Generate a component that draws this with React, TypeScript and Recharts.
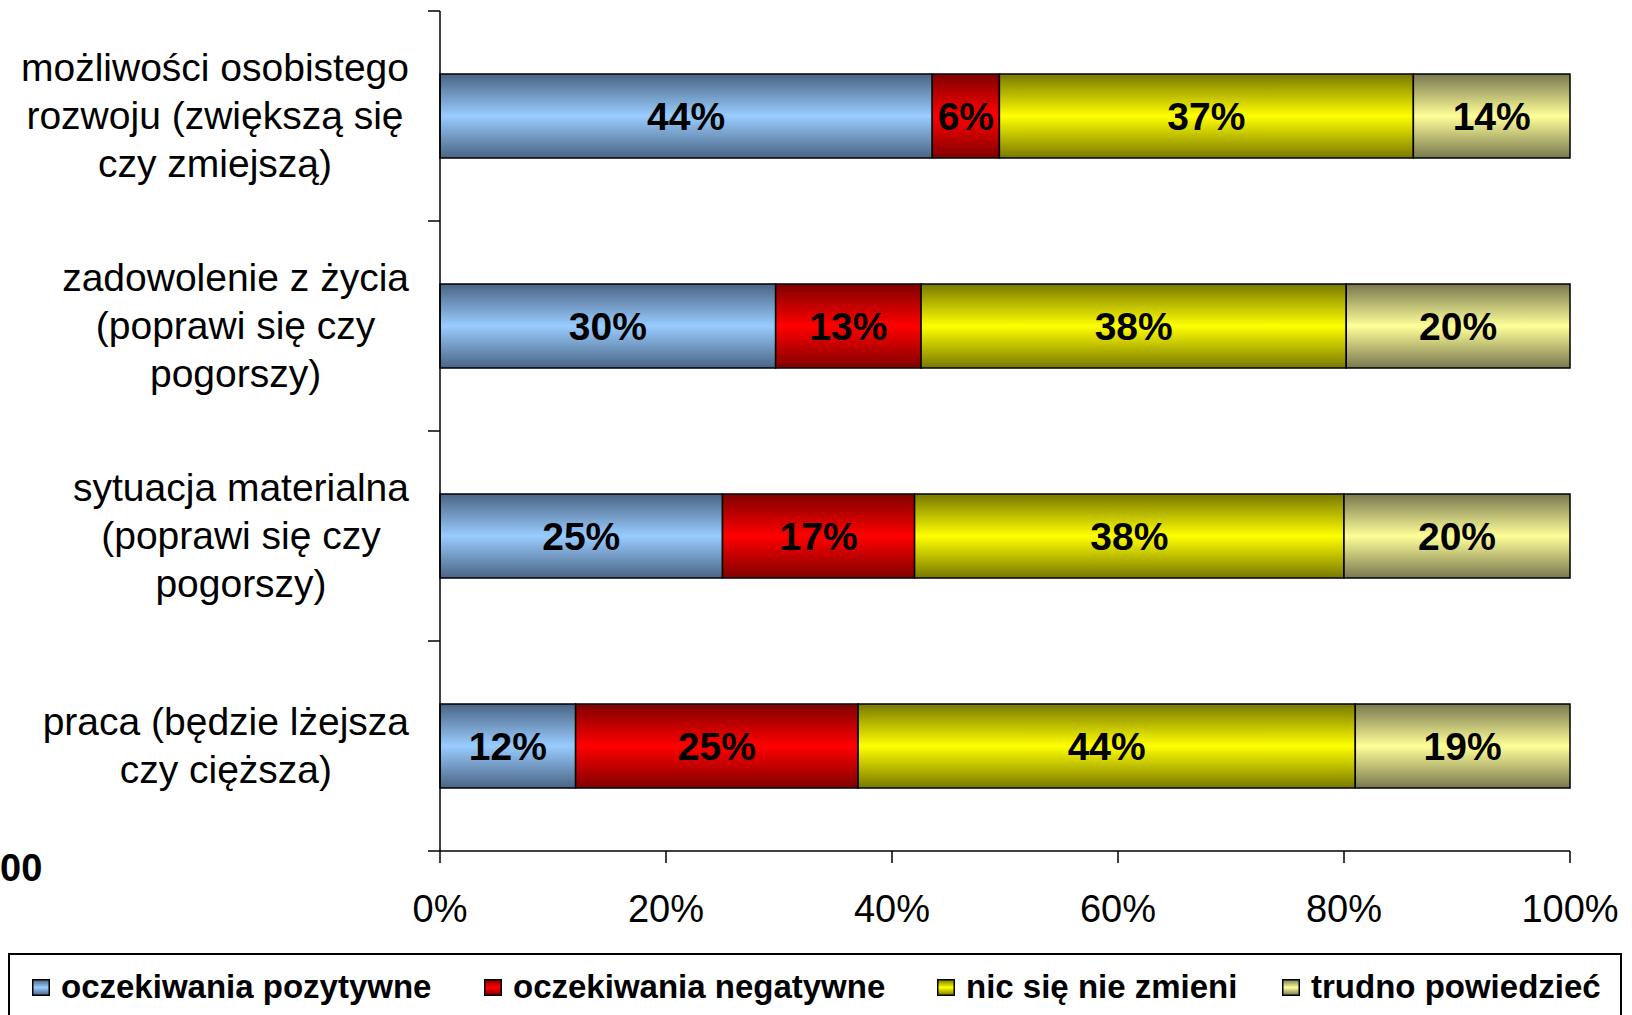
import { Bar, BarChart, LabelList, XAxis, YAxis } from 'recharts'

const FONT = '"Liberation Sans", Arial, sans-serif'

const categories = [
  'możliwości osobistego rozwoju (zwiększą się czy zmiejszą)',
  'zadowolenie z życia (poprawi się czy pogorszy)',
  'sytuacja materialna (poprawi się czy pogorszy)',
  'praca (będzie lżejsza czy cięższa)',
]
const categoryLines = [
  ['możliwości osobistego', 'rozwoju (zwiększą się', 'czy zmiejszą)'],
  ['zadowolenie z życia', '(poprawi się czy', 'pogorszy)'],
  ['sytuacja materialna', '(poprawi się czy', 'pogorszy)'],
  ['praca (będzie lżejsza', 'czy cięższa)'],
]
const positive = [44, 30, 25, 12]
const negative = [6, 13, 17, 25]
const noChange = [37, 38, 38, 44]
const hardToSay = [14, 20, 20, 19]
const seriesNames = [
  'oczekiwania pozytywne',
  'oczekiwania negatywne',
  'nic się nie zmieni',
  'trudno powiedzieć',
]
const xTicks = [0, 0.2, 0.4, 0.6, 0.8, 1]

const data = categories.map((name, i) => ({
  name,
  pos: positive[i],
  neg: negative[i],
  same: noChange[i],
  unsure: hardToSay[i],
}))

// edge colour / centre colour of the banded fills
const series = [
  { key: 'pos', name: seriesNames[0], dark: '#4a6484', light: '#99ccff' },
  { key: 'neg', name: seriesNames[1], dark: '#800000', light: '#ff0000' },
  { key: 'same', name: seriesNames[2], dark: '#787800', light: '#ffff00' },
  { key: 'unsure', name: seriesNames[3], dark: '#787850', light: '#ffff99' },
]

const LABEL_FONT = 39
const LABEL_RIGHT = 409
const LINE_H = 48
const BAND = 210

let measureCtx: CanvasRenderingContext2D | null = null
function textWidth(s: string) {
  if (!measureCtx) {
    measureCtx = document.createElement('canvas').getContext('2d')
    if (measureCtx) measureCtx.font = `${LABEL_FONT}px ${FONT}`
  }
  return measureCtx ? measureCtx.measureText(s).width : s.length * 18
}

function CategoryTick(props: any) {
  const { y, payload, index } = props
  const lines = categoryLines[categories.indexOf(payload.value)] ?? [payload.value]
  const maxW = Math.max(...lines.map(textWidth))
  const cx = LABEL_RIGHT - maxW / 2
  const n = lines.length
  return (
    <g>
      <line x1={428} x2={440} y1={y - BAND / 2} y2={y - BAND / 2} stroke="#000" strokeWidth={1.5} />
      {index === categories.length - 1 && (
        <line x1={428} x2={440} y1={y + BAND / 2} y2={y + BAND / 2} stroke="#000" strokeWidth={1.5} />
      )}
      {lines.map((l, i) => (
        <text
          key={i}
          x={cx}
          y={y + (i - (n - 1) / 2) * LINE_H - 1}
          textAnchor="middle"
          dominantBaseline="central"
          fontSize={LABEL_FONT}
          fontFamily={FONT}
          fill="#000"
        >
          {l}
        </text>
      ))}
    </g>
  )
}

function Gradients() {
  return (
    <defs>
      {series.map((s) => (
        <linearGradient key={s.key} id={`grad-${s.key}`} x1="0" y1="0" x2="0" y2="1">
          <stop offset="0%" stopColor={s.dark} />
          <stop offset="50%" stopColor={s.light} />
          <stop offset="100%" stopColor={s.dark} />
        </linearGradient>
      ))}
    </defs>
  )
}

function LegendBox() {
  const lefts = [32, 484, 937, 1282]
  return (
    <div
      style={{
        position: 'absolute',
        left: 8,
        top: 953,
        width: 1614,
        height: 80,
        border: '2px solid #000',
        boxSizing: 'border-box',
        background: '#fff',
      }}
    >
      {series.map((s, i) => (
        <div
          key={s.key}
          style={{
            position: 'absolute',
            left: lefts[i] - 10,
            top: 10,
            display: 'flex',
            alignItems: 'center',
            whiteSpace: 'nowrap',
          }}
        >
          <svg width={18} height={17} style={{ marginRight: 11 }}>
            <defs>
              <linearGradient id={`lg-${s.key}`} x1="0" y1="0" x2="0" y2="1">
                <stop offset="0%" stopColor={s.dark} />
                <stop offset="50%" stopColor={s.light} />
                <stop offset="100%" stopColor={s.dark} />
              </linearGradient>
            </defs>
            <rect x={0.75} y={0.75} width={16.5} height={15.5} fill={`url(#lg-${s.key})`} stroke="#000" strokeWidth={1.5} />
          </svg>
          <span style={{ fontFamily: FONT, fontWeight: 'bold', fontSize: 33, lineHeight: '44px', color: '#000' }}>
            {s.name}
          </span>
        </div>
      ))}
    </div>
  )
}

export default function App() {
  return (
    <div
      style={{
        position: 'absolute',
        left: 0,
        top: 0,
        width: 1632,
        height: 1015,
        overflow: 'hidden',
        background: '#fff',
        fontFamily: FONT,
      }}
    >
      <BarChart
        width={1632}
        height={1015}
        data={data}
        layout="vertical"
        stackOffset="expand"
        barCategoryGap="30%"
        margin={{ top: 11, right: 62, bottom: 104, left: 0 }}
      >
        <Gradients />
        <XAxis
          type="number"
          domain={[0, 1]}
          ticks={xTicks}
          tickFormatter={(v: number) => `${Math.round(v * 100)}%`}
          tickSize={12}
          tickMargin={32}
          height={60}
          axisLine={{ stroke: '#000', strokeWidth: 1.5 }}
          tickLine={{ stroke: '#000', strokeWidth: 1.5 }}
          tick={{ fill: '#000', fontSize: 38, fontFamily: FONT }}
        />
        <YAxis
          type="category"
          dataKey="name"
          width={440}
          axisLine={{ stroke: '#000', strokeWidth: 1.5 }}
          tickLine={false}
          tick={<CategoryTick />}
          interval={0}
        />
        {series.map((s) => (
          <Bar
            key={s.key}
            dataKey={s.key}
            name={s.name}
            stackId="a"
            fill={`url(#grad-${s.key})`}
            stroke="#000"
            strokeWidth={1.5}
            isAnimationActive={false}
          >
            <LabelList
              dataKey={s.key}
              position="center"
              formatter={(v: any) => `${v}%`}
              fill="#000"
              fontSize={39}
              fontWeight="bold"
              fontFamily={FONT}
            />
          </Bar>
        ))}
      </BarChart>
      <div
        style={{
          position: 'absolute',
          left: 0,
          top: 846,
          fontFamily: FONT,
          fontWeight: 'bold',
          fontSize: 38,
          lineHeight: '44px',
          color: '#000',
        }}
      >
        00
      </div>
      <LegendBox />
    </div>
  )
}
